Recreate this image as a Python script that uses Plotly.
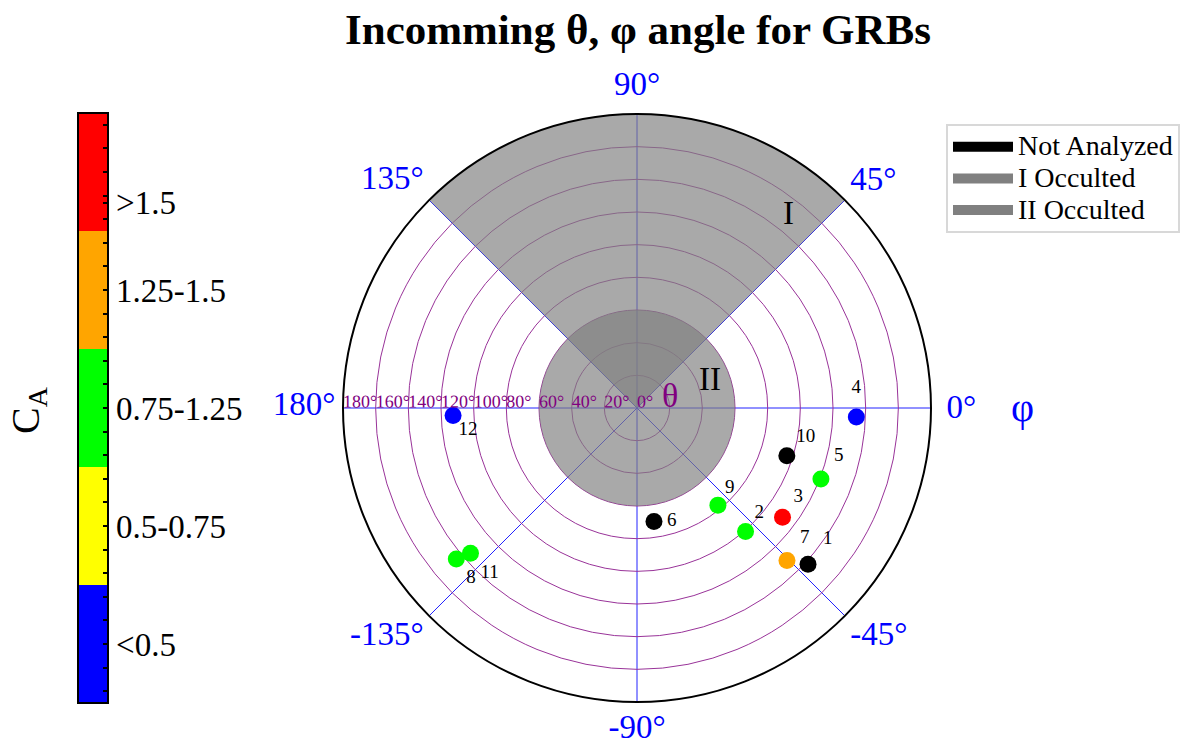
import plotly.graph_objects as go

# ---------------- data ----------------
grb_ids = ["1", "2", "3", "4", "5", "6", "7", "8", "9", "10", "11", "12"]
theta_deg = [141.8, 100.7, 111.4, 134.4, 120.7, 70.3, 131.0, 144.2, 77.4, 96.3, 135.3, 112.7]
phi_deg = [-42.4, -48.7, -36.9, -2.35, -21.1, -81.5, -45.5, -140.1, -50.2, -17.7, -138.9, -177.7]
# C_A class index: 0 "<0.5", 1 "0.5-0.75", 2 "0.75-1.25", 3 "1.25-1.5", 4 ">1.5", None = not analyzed
ca_class = [None, 2, 4, 0, 2, None, 3, 2, 2, None, 2, 0]

ca_labels = ["<0.5", "0.5-0.75", "0.75-1.25", "1.25-1.5", ">1.5"]
ca_label_vals = [0.5, 1.5, 2.5, 3.5, 4.24]
ca_colors = ["#0000ff", "#ffff00", "#00ff00", "#ffa500", "#ff0000"]

phi_ticks = [0, 45, 90, 135, 180, 225, 270, 315]
phi_ticktext = ["0°", "45°", "90°", "135°", "180°", "-135°", "-90°", "-45°"]
theta_ticks = [0, 20, 40, 60, 80, 100, 120, 140, 160, 180]

# occultation regions
occ_I_center, occ_I_width, occ_I_r = 90, 90, 180
occ_II_r = 60

legend_names = ["Not Analyzed", "I Occulted", "II Occulted"]
legend_colors = ["black", "#808080", "#808080"]

# ---------------- styles ----------------
label_pos = ["top right", "top right", "top right", "top center", "top right", "middle right",
             "top right", "bottom right", "top right", "top right", "bottom right", "bottom right"]
label_gap = [15, 9, 11, 19, 13, 13, 13, 10, 7, 9.5, 10, 5.5]   # px distance of label from point
# fine placement of the angular tick labels (px, right / up)
phi_lab_dx = [8, -6, 0, 16, 12, 22, 0, -13]
phi_lab_dy = [2, 8, 5, 9, 5, 8, 5, 8]
PHI_FS = 33
SERIF = "Liberation Serif, Times New Roman, serif"
GRAY = "rgba(128,128,128,0.68)"
NBSP = "\u00a0"


def phi_label(txt, ang, dx, dy):
    body = f'<span style="baseline-shift:{dy}px">{txt}</span>'
    if ang in (90, 270) or dx == 0:
        return body
    if ang < 90 or ang > 270:      # start-anchored labels (right side)
        adv = dx
        return f'<span style="letter-spacing:{adv - 0.25 * PHI_FS:.2f}px">{NBSP}</span>' + body
    adv = -dx                      # end-anchored labels (left side)
    return body + f'<span style="letter-spacing:{adv - 0.25 * PHI_FS:.2f}px">{NBSP}</span>'


fig = go.Figure()

# occulted regions
fig.add_trace(go.Barpolar(
    r=[occ_I_r], theta=[occ_I_center], width=[occ_I_width], base=0, name="I Occulted",
    marker=dict(color=GRAY, line=dict(width=0)), showlegend=False))
fig.add_trace(go.Barpolar(
    r=[occ_II_r], theta=[0], width=[360], base=0, name="II Occulted",
    marker=dict(color=GRAY, line=dict(width=0)), showlegend=False))

# legend entries
for nm, col in zip(legend_names, legend_colors):
    fig.add_trace(go.Scatterpolar(r=[None], theta=[None], mode="lines",
                                  name=f'<span style="font-size:28px">{nm}</span>',
                                  line=dict(color=col, width=17)))

# not analyzed points
na = [i for i, c in enumerate(ca_class) if c is None]
fig.add_trace(go.Scatterpolar(
    r=[theta_deg[i] for i in na], theta=[phi_deg[i] for i in na],
    mode="markers", marker=dict(color="black", size=17), showlegend=False))

# analyzed points with colorbar
an = [i for i, c in enumerate(ca_class) if c is not None]
cscale = []
for k, c in enumerate(ca_colors):
    cscale.append([k / 5, c])
    cscale.append([(k + 1) / 5, c])
minor_vals = [round(0.1 + 0.2 * j, 2) for j in range(25)]
tickvals, ticktext = [], []
for v in minor_vals:
    tickvals.append(v)
    ticktext.append(ca_labels[ca_label_vals.index(v)] if v in ca_label_vals else " ")
for v, t in zip(ca_label_vals, ca_labels):
    if v not in minor_vals:
        tickvals.append(v)
        ticktext.append(t)
fig.add_trace(go.Scatterpolar(
    r=[theta_deg[i] for i in an], theta=[phi_deg[i] for i in an],
    mode="markers",
    marker=dict(size=17, color=[ca_class[i] + 0.5 for i in an], colorscale=cscale,
                cmin=0, cmax=5,
                colorbar=dict(x=78 / 1184, xanchor="left", y=1 - 408 / 740, yanchor="middle",
                              len=590 / 740, lenmode="fraction", thickness=30,
                              xpad=0, ypad=0, outlinecolor="black", outlinewidth=2,
                              ticks="inside", ticklen=6, tickcolor="black", tickwidth=2,
                              tickvals=tickvals, ticktext=ticktext,
                              tickfont=dict(family=SERIF, size=33, color="black"))),
    showlegend=False))

# number labels (invisible markers set the text distance from each point)
fig.add_trace(go.Scatterpolar(
    r=theta_deg, theta=phi_deg, mode="markers+text", text=grb_ids, textposition=label_pos,
    marker=dict(size=[1.6 * (g - 1) for g in label_gap], opacity=0),
    textfont=dict(family=SERIF, size=19, color="black"), showlegend=False, hoverinfo="skip"))

fig.update_layout(
    width=1184, height=740,
    margin=dict(l=0, r=0, t=0, b=0),
    paper_bgcolor="white",
    font=dict(family=SERIF),
    title=dict(text="<b>Incomming θ, φ angle for GRBs</b>", x=638 / 1184, xanchor="center",
               y=1 - 29 / 740, yanchor="middle",
               font=dict(family=SERIF, size=43, color="black")),
    polar=dict(
        domain=dict(x=[343 / 1184, 931 / 1184], y=[1 - 702 / 740, 1 - 114 / 740]),
        bgcolor="white",
        bargap=0,
        radialaxis=dict(range=[0, 180], tickvals=theta_ticks,
                        ticktext=[f"{v}°" for v in theta_ticks], angle=180,
                        tickangle=179.9, side="clockwise", showline=False, ticks="",
                        gridcolor="#993399", gridwidth=1, layer="above traces",
                        tickfont=dict(family=SERIF, size=18, color="#800080")),
        angularaxis=dict(rotation=0, direction="counterclockwise", tickvals=phi_ticks,
                         ticktext=[phi_label(t, a, dx, dy) for t, a, dx, dy in
                                   zip(phi_ticktext, phi_ticks, phi_lab_dx, phi_lab_dy)],
                         ticks="", showline=True, linecolor="black",
                         linewidth=2, gridcolor="#2222ff", gridwidth=1, layer="above traces",
                         tickfont=dict(family=SERIF, size=PHI_FS, color="#0000ff")),
    ),
    legend=dict(x=946 / 1184, y=1 - 124 / 740, xanchor="left", yanchor="top",
                bordercolor="#d8d8d8", borderwidth=2, bgcolor="white", itemwidth=60,
                font=dict(family=SERIF, size=22, color="black"), tracegroupgap=0),
    annotations=[
        dict(text="C<sub>A</sub>", x=28 / 1184, y=1 - 410 / 740, xref="paper", yref="paper",
             xanchor="center", yanchor="middle",
             textangle=-90, showarrow=False, font=dict(family=SERIF, size=40, color="black")),
        dict(text="φ", x=1022 / 1184, y=1 - 407 / 740, xref="paper", yref="paper",
             xanchor="center", yanchor="middle",
             showarrow=False, font=dict(family=SERIF, size=40, color="#0000ff")),
        dict(text="θ", x=670 / 1184, y=1 - 395 / 740, xref="paper", yref="paper",
             xanchor="center", yanchor="middle",
             showarrow=False, font=dict(family=SERIF, size=34, color="#800080")),
        dict(text="I", x=788 / 1184, y=1 - 213 / 740, xref="paper", yref="paper",
             xanchor="center", yanchor="middle",
             showarrow=False, font=dict(family=SERIF, size=33, color="black")),
        dict(text="II", x=710 / 1184, y=1 - 379 / 740, xref="paper", yref="paper",
             xanchor="center", yanchor="middle",
             showarrow=False, font=dict(family=SERIF, size=33, color="black")),
    ],
)

fig.write_html("out.html")
